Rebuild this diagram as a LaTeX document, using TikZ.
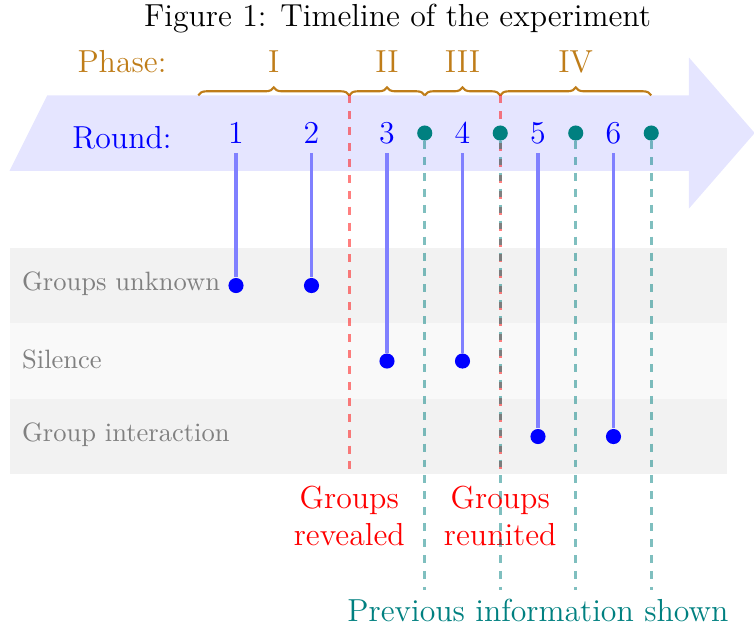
\documentclass[tikz,border=0pt]{standalone}
\usepackage{tikz}
\usetikzlibrary{positioning}
\usetikzlibrary{decorations.pathreplacing}

\definecolor{phasecolor}{RGB}{191,125,25}

\begin{document}
\begin{tikzpicture}[
    roundnum/.style={text=blue, font=\large},
    infodot/.style={circle, fill=teal, inner sep=0pt, minimum size=2mm},
    rowdot/.style={circle, fill=blue, inner sep=0pt, minimum size=2mm},
    rowlabel/.style={anchor=west, text=gray, font=\normalsize, inner sep=0pt},
    phaselabel/.style={anchor=base, text=phasecolor, font=\large},
    phasebrace/.style={draw=phasecolor, thick, decorate, decoration={brace, amplitude=3pt}},
    stem/.style={draw=blue!50, line width=1.2pt},
    revealline/.style={draw=red, draw opacity=0.5, very thick, dashed},
    infoline/.style={draw=teal, draw opacity=0.5, very thick, dashed},
    eventlabel/.style={text=red, font=\large, align=center, anchor=north}
]
    \useasboundingbox (-2.126,-6.556) rectangle (7.861,1.762);

    % timeline arrow and rows
    \fill [blue!10] (-1.5,0.5) -- (7,0.5) -- (7,1) -- (7.87,0) -- (7,-1) -- (7,-0.5) -- (-2,-0.5) -- cycle;
    \fill [gray!10] (-2,-1.52) rectangle (7.5,-2.52);
    \fill [gray!5] (-2,-2.52) rectangle (7.5,-3.52);
    \fill [gray!10] (-2,-3.52) rectangle (7.5,-4.52);

    \node (title) [font=\large] at (3.14,1.52) {Figure 1: Timeline of the experiment};

    \node (unknown) [rowlabel] at (-1.84,-2) {Groups unknown};
    \node (silence) [rowlabel] at (-1.84,-3) {Silence};
    \node (interaction) [rowlabel] at (-1.84,-4) {Group interaction};

    % phases
    \node (phase) [phaselabel] at (-0.51,0.8) {Phase:};
    \draw [phasebrace] (0.5,0.5) -- (2.5,0.5);
    \draw [phasebrace] (2.5,0.5) -- (3.5,0.5);
    \draw [phasebrace] (3.5,0.5) -- (4.5,0.5);
    \draw [phasebrace] (4.5,0.5) -- (6.5,0.5);
    \node (ph1) [phaselabel] at (1.5,0.8) {I};
    \node (ph2) [phaselabel] at (3,0.8) {II};
    \node (ph3) [phaselabel] at (4,0.8) {III};
    \node (ph4) [phaselabel] at (5.5,0.8) {IV};

    % rounds
    \node (round) [roundnum] at (-0.51,-0.06) {Round:};
    \node (r1) [roundnum] at (1,0) {1};
    \node (r2) [roundnum] at (2,0) {2};
    \node (r3) [roundnum] at (3,0) {3};
    \node (r4) [roundnum] at (4,0) {4};
    \node (r5) [roundnum] at (5,0) {5};
    \node (r6) [roundnum] at (6,0) {6};

    \node (d1) [rowdot] at (1,-2.02) {};
    \node (d2) [rowdot] at (2,-2.02) {};
    \node (d3) [rowdot] at (3,-3.02) {};
    \node (d4) [rowdot] at (4,-3.02) {};
    \node (d5) [rowdot] at (5,-4.02) {};
    \node (d6) [rowdot] at (6,-4.02) {};

    \draw [stem] (r1) -- (d1);
    \draw [stem] (r2) -- (d2);
    \draw [stem] (r3) -- (d3);
    \draw [stem] (r4) -- (d4);
    \draw [stem] (r5) -- (d5);
    \draw [stem] (r6) -- (d6);

    % events
    \coordinate (revealtop) at (2.5,0.5);
    \coordinate (reunitetop) at (4.5,0.5);
    \node (revealed) [eventlabel] at (2.5,-4.55) {Groups\\revealed};
    \node (reunited) [eventlabel] at (4.5,-4.55) {Groups\\reunited};
    \draw [revealline] (revealtop) -- (revealed);
    \draw [revealline] (reunitetop) -- (reunited);

    \node (shown) [text=teal, font=\large, anchor=north] at (5,-6.05) {Previous information shown};
    \node (i1) [infodot] at (3.5,0) {};
    \node (i2) [infodot] at (4.5,0) {};
    \node (i3) [infodot] at (5.5,0) {};
    \node (i4) [infodot] at (6.5,0) {};
    \draw [infoline] (i1) -- (i1 |- shown.north);
    \draw [infoline] (i2) -- (i2 |- shown.north);
    \draw [infoline] (i3) -- (i3 |- shown.north);
    \draw [infoline] (i4) -- (i4 |- shown.north);
\end{tikzpicture}
\end{document}
